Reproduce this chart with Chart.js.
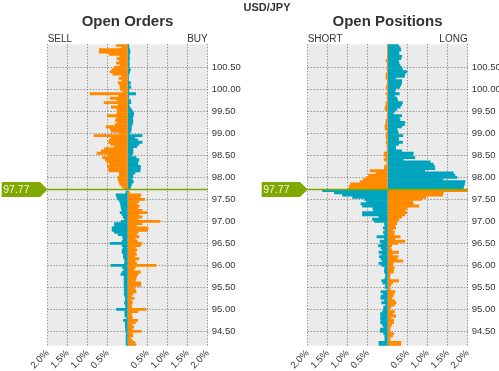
<!DOCTYPE html>
<html lang="en">
<head>
<meta charset="UTF-8">
<title>USD/JPY Order Book</title>
<style>
    body {
        margin: 0;
        padding: 0;
        background: #fff;
        font-family: 'Liberation Sans', Arial, sans-serif;
        color: #333;
    }
    #wrap {
        position: relative;
        width: 499px;
        height: 371px;
        overflow: hidden;
    }
    canvas {
        position: absolute;
        top: 0;
    }
    #ordersCanvas { left: 0; }
    #positionsCanvas { left: 250px; }
    .lbl {
        position: absolute;
        line-height: 1;
        white-space: nowrap;
    }
    .pair { font-size: 11px; font-weight: bold; top: 2px; left: 267px; transform: translateX(-50%); }
    .title { font-size: 15px; font-weight: bold; top: 13.3px; transform: translateX(-50%); }
    .side { font-size: 10px; top: 34.2px; }
</style>
</head>
<body>
<div id="wrap">
    <canvas id="ordersCanvas" width="250" height="371"></canvas>
    <canvas id="positionsCanvas" width="249" height="371"></canvas>

    <div class="lbl pair">USD/JPY</div>
    <div class="lbl title" style="left:127.5px">Open Orders</div>
    <div class="lbl title" style="left:387.5px">Open Positions</div>
    <div class="lbl side" style="left:47.7px">SELL</div>
    <div class="lbl side" style="right:291.3px">BUY</div>
    <div class="lbl side" style="left:307.7px">SHORT</div>
    <div class="lbl side" style="right:31.3px">LONG</div>
</div>

<script src="https://cdn.jsdelivr.net/npm/chart.js"></script>
<script>
// price buckets (0.05 wide), top to bottom
var buckets = [
    101.00, 100.95, 100.90, 100.85, 100.80, 100.75, 100.70, 100.65, 100.60, 100.55,
    100.50, 100.45, 100.40, 100.35, 100.30, 100.25, 100.20, 100.15, 100.10, 100.05,
    100.00, 99.95, 99.90, 99.85, 99.80, 99.75, 99.70, 99.65, 99.60, 99.55,
    99.50, 99.45, 99.40, 99.35, 99.30, 99.25, 99.20, 99.15, 99.10, 99.05,
    99.00, 98.95, 98.90, 98.85, 98.80, 98.75, 98.70, 98.65, 98.60, 98.55,
    98.50, 98.45, 98.40, 98.35, 98.30, 98.25, 98.20, 98.15, 98.10, 98.05,
    98.00, 97.95, 97.90, 97.85, 97.80, 97.75, 97.70, 97.65, 97.60, 97.55,
    97.50, 97.45, 97.40, 97.35, 97.30, 97.25, 97.20, 97.15, 97.10, 97.05,
    97.00, 96.95, 96.90, 96.85, 96.80, 96.75, 96.70, 96.65, 96.60, 96.55,
    96.50, 96.45, 96.40, 96.35, 96.30, 96.25, 96.20, 96.15, 96.10, 96.05,
    96.00, 95.95, 95.90, 95.85, 95.80, 95.75, 95.70, 95.65, 95.60, 95.55,
    95.50, 95.45, 95.40, 95.35, 95.30, 95.25, 95.20, 95.15, 95.10, 95.05,
    95.00, 94.95, 94.90, 94.85, 94.80, 94.75, 94.70, 94.65, 94.60, 94.55,
    94.50, 94.45, 94.40, 94.35, 94.30, 94.25, 94.20
];

var currentPrice = 97.77;
var yTicks = [94.5, 95.0, 95.5, 96.0, 96.5, 97.0, 97.5, 98.0, 98.5, 99.0, 99.5, 100.0, 100.5];
var xTicks = [-2, -1.5, -1, -0.5, 0, 0.5, 1, 1.5, 2];

// open orders, % of book (sell side drawn to the left)
var ordersSell = [
    .29, .15, .71, .71, .46, .20, .27, .21, .28, .19,
    .34, .39, .44, .37, .15, .22, .14, .24, .20, .19,
    .18, .12, .94, .22, .44, .27, .59, .24, .41, .27,
    .26, .27, .51, .27, .31, .26, .32, .54, .44, .41,
    .21, .84, .41, .46, .48, .43, .33, .58, .66, .77,
    .47, .63, .56, .52, .44, .51, .48, .47, .21, .21,
    .24, .24, .22, .20, .15, .10,
    .02, .05, .29, .27, .24, .20, .18, .17, .16, .14,
    .19, .14, .11, .08, .16, .33, .33, .39, .39, .33,
    .24, .13, .11, .14, .44, .14, .11, .14, .14, .11,
    .11, .09, .07, .08, .42, .13, .09, .13, .17, .09,
    .09, .09, .09, .09, .08, .09, .08, .09, .07, .06,
    .06, .08, .06, .05, .28, .07, .07, .07, .03, .11,
    .06, .06, .06, .05, .05, .03, .04, .04, .04, .04,
    .04
];
var ordersBuy = [
    .03, .03, .05, .06, .04, .04, .05, .03, .04, .04,
    .03, .07, .05, .03, .02, .02, .02, .07, .04, .08,
    .02, .03, .20, .03, .02, .07, .08, .03, .05, .09,
    .13, .15, .14, .12, .13, .13, .11, .09, .09, .08,
    .05, .36, .18, .25, .36, .28, .23, .13, .13, .13,
    .09, .21, .28, .26, .25, .32, .32, .31, .18, .13,
    .13, .11, .14, .10, .08, .06,
    .02, .05, .33, .30, .43, .28, .23, .29, .25, .36,
    .49, .28, .36, .26, .81, .36, .22, .51, .50, .26,
    .22, .28, .19, .24, .36, .32, .19, .23, .19, .22,
    .18, .28, .19, .22, .71, .19, .15, .32, .26, .22,
    .21, .19, .33, .33, .15, .19, .21, .13, .09, .16,
    .09, .12, .09, .10, .46, .26, .09, .11, .11, .25,
    .19, .11, .15, .11, .34, .11, .13, .07, .11, .18,
    .21
];

// open positions, % of book (short side drawn to the left)
var positionsShort = [
    0, 0, 0, 0, 0, 0, 0, .04, 0, 0,
    0, .02, 0, .04, .04, .04, 0, 0, .02, .04,
    0, 0, .04, 0, .02, 0, .04, .04, .06, .07,
    0, 0, .02, 0, .04, .04, .06, .07, .06, 0,
    .04, .04, .04, .02, .04, .02, .02, 0, .02, .09,
    .09, .05, .09, .02, .02, .08, .08, .44, .28, .48,
    .53, .61, .69, .93, .96, .97,
    1.63, 1.33, 1.13, .88, .58, .53, .67, .63, .37, .36,
    .63, .63, .22, .38, .33, .08, .07, .11, .07, .11,
    .08, .27, .08, .19, .15, .23, .17, .13, .22, .15,
    .21, .17, .13, .22, .15, .07, .08, .08, .05, .05,
    .07, .15, .12, .05, .07, .02, .17, .11, .17, .17,
    .08, .15, .05, .10, .10, .13, .18, .17, .18, .17,
    .18, .13, .10, .18, .19, .10, .07, .07, .07, .22,
    .22
];
var positionsLong = [
    .27, .31, .33, .28, .28, .35, .33, .27, .28, .31,
    .35, .37, .48, .43, .42, .20, .35, .35, .33, .30,
    .20, .18, .29, .17, .23, .25, .37, .35, .31, .23,
    .17, .14, .35, .29, .31, .43, .42, .35, .23, .25,
    .27, .38, .27, .27, .37, .27, .20, .20, .35, .64,
    .62, .68, .39, 1.06, 1.14, 1.17, 1.18, .93, 1.64, 1.68,
    1.73, 1.38, 1.93, 1.92, 1.90, 1.89,
    2.05, 1.39, 1.37, .95, .85, .62, .64, .78, .48, .43,
    .48, .43, .35, .28, .23, .23, .18, .20, .12, .17,
    .15, .31, .18, .43, .25, .10, .07, .10, .27, .12,
    .26, .23, .38, .14, .12, .16, .15, .14, .06, .05,
    .06, .27, .12, .08, .03, .07, .18, .15, .13, .10,
    .17, .21, .17, .08, .06, .17, .12, .20, .08, .15,
    .15, .10, .07, .05, .07, .15, .12, .06, .06, .33,
    .33
];

var ORANGE = '#ff8a00';
var TEAL = '#00a5bd';
var GREEN = '#7fa800';
var HALF_BUCKET = 0.025;
var TICK_FONT = { family: "'Liberation Sans', Arial", size: 9.5 };

function isAbove(p) {
    return p + HALF_BUCKET > currentPrice;
}

var plotBackground = {
    id: 'plotBackground',
    beforeDraw: function (chart) {
        var a = chart.chartArea, ctx = chart.ctx;
        ctx.save();
        ctx.fillStyle = '#ebebeb';
        ctx.fillRect(a.left, a.top, a.right - a.left, a.bottom - a.top);
        ctx.restore();
    }
};

// current price line + tag on the left of the plot
var priceMarker = {
    id: 'priceMarker',
    afterDatasetsDraw: function (chart) {
        var a = chart.chartArea, ctx = chart.ctx;
        var edge = Math.round(currentPrice / 0.05) * 0.05 - HALF_BUCKET;
        var y = chart.scales.y.getPixelForValue(edge);
        var x0 = a.left - 46, x1 = a.left - 7.7;
        ctx.save();
        ctx.strokeStyle = GREEN;
        ctx.lineWidth = 1.5;
        ctx.beginPath();
        ctx.moveTo(a.left, y);
        ctx.lineTo(a.right, y);
        ctx.stroke();
        ctx.fillStyle = GREEN;
        ctx.beginPath();
        ctx.moveTo(x0, y - 7.5);
        ctx.lineTo(x1, y - 7.5);
        ctx.lineTo(a.left, y);
        ctx.lineTo(x1, y + 7.5);
        ctx.lineTo(x0, y + 7.5);
        ctx.closePath();
        ctx.fill();
        ctx.fillStyle = '#f4f8e0';
        ctx.font = "10.5px 'Liberation Sans', Arial";
        ctx.textBaseline = 'middle';
        ctx.textAlign = 'left';
        ctx.fillText(currentPrice.toFixed(2), x0 + 1.5, y + 0.5);
        ctx.restore();
    }
};

function makeChart(id, leftVals, rightVals, padLeft, axisWidth) {
    var ctx = document.getElementById(id).getContext('2d');
    return new Chart(ctx, {
        type: 'bar',
        data: {
            datasets: [{
                data: buckets.map(function (p, i) { return { x: -leftVals[i], y: p }; }),
                backgroundColor: function (c) { return isAbove(c.raw.y) ? ORANGE : TEAL; },
                stack: 'book'
            }, {
                data: buckets.map(function (p, i) { return { x: rightVals[i], y: p }; }),
                backgroundColor: function (c) { return isAbove(c.raw.y) ? TEAL : ORANGE; },
                stack: 'book'
            }]
        },
        options: {
            indexAxis: 'y',
            responsive: false,
            animation: false,
            events: [],
            layout: { padding: { left: padLeft, top: 44.3, right: 0, bottom: 0 } },
            datasets: { bar: { barPercentage: 1, categoryPercentage: 1, borderWidth: 0 } },
            plugins: { legend: { display: false }, tooltip: { enabled: false } },
            scales: {
                x: {
                    type: 'linear',
                    min: -2,
                    max: 2,
                    stacked: true,
                    offset: false,
                    afterBuildTicks: function (axis) {
                        axis.ticks = xTicks.map(function (v) { return { value: v }; });
                    },
                    afterFit: function (axis) { axis.height = 25.3; },
                    grid: { color: '#6e6e6e', lineWidth: 1, drawTicks: false, offset: false },
                    border: { display: false, dash: [1, 2] },
                    ticks: {
                        font: TICK_FONT,
                        color: '#333',
                        padding: 2,
                        minRotation: 45,
                        maxRotation: 45,
                        autoSkip: false,
                        callback: function (v) { return v === 0 ? '' : Math.abs(v).toFixed(1) + '%'; }
                    }
                },
                y: {
                    type: 'linear',
                    position: 'right',
                    min: 94.175,
                    max: 101.025,
                    bounds: 'data',
                    stacked: true,
                    offset: false,
                    afterBuildTicks: function (axis) {
                        axis.ticks = yTicks.map(function (v) { return { value: v }; });
                    },
                    afterFit: function (axis) { axis.width = axisWidth; },
                    grid: { color: '#6e6e6e', lineWidth: 1, drawTicks: false, offset: false },
                    border: { display: false, dash: [1, 2] },
                    ticks: {
                        font: TICK_FONT,
                        color: '#333',
                        padding: 4,
                        autoSkip: false,
                        callback: function (v) { return v.toFixed(2); }
                    }
                }
            }
        },
        plugins: [plotBackground, priceMarker]
    });
}

var ordersChart = makeChart('ordersCanvas', ordersSell, ordersBuy, 47.7, 42.3);
var positionsChart = makeChart('positionsCanvas', positionsShort, positionsLong, 57.7, 31.3);
</script>
</body>
</html>
